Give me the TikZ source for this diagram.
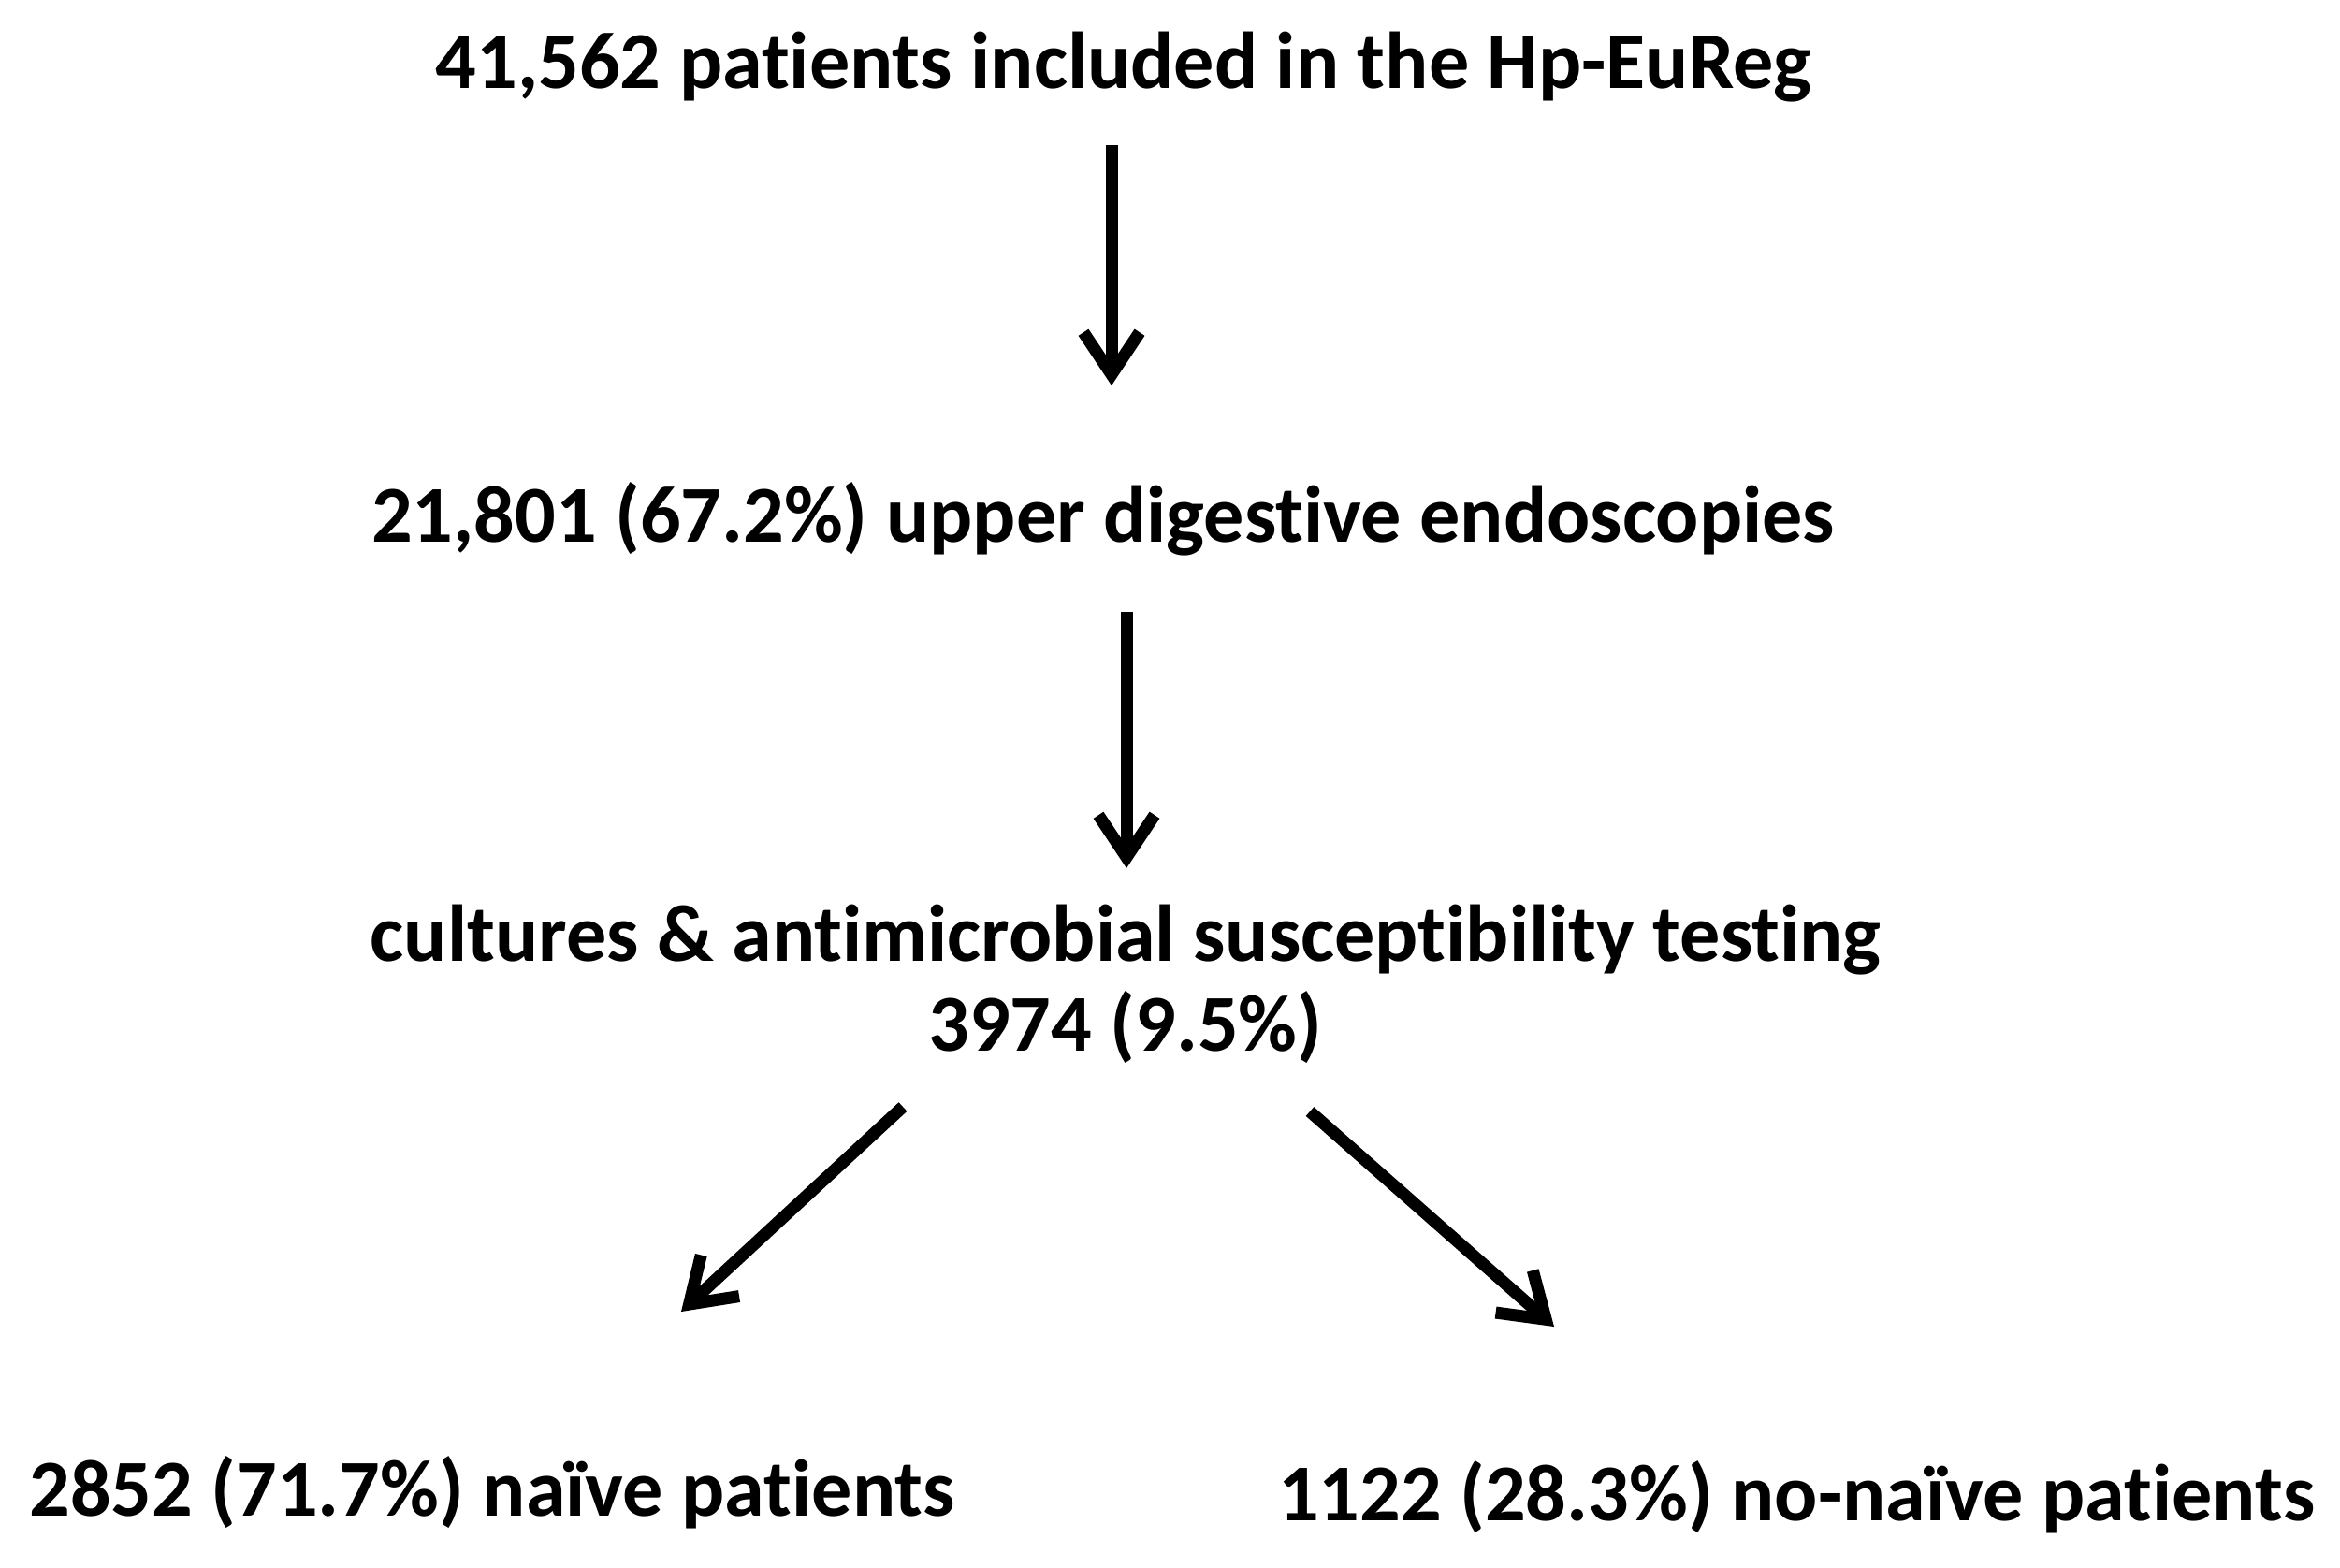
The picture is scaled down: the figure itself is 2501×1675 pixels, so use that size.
\documentclass[tikz,border=0pt]{standalone}
\usepackage{fontspec}
\setmainfont{Carlito}[Ligatures=NoCommon]
\usetikzlibrary{arrows.meta}
\begin{document}
\begin{tikzpicture}[x=0.01cm,y=-0.01cm,
  lbl/.style={font=\fontsize{24.5}{27.3}\selectfont\bfseries, inner sep=0pt, align=center},
  arr/.style={line width=1.3mm, -{Straight Barb[length=4.5mm,width=6mm]}}]
\useasboundingbox (0,0) rectangle (2501,1675);
\node[lbl] (t1) at (1201,72) {41,562 patients included in the Hp-EuReg};
\node[lbl] (t2) at (1179,555) {21,801 (67.2\%) upper digestive endoscopies};
\node[lbl] (t3) at (1203,1052) {cultures \& antimicrobial susceptibility testing\\3974 (9.5\%)};
\node[lbl] (t4) at (526,1595) {2852 (71.7\%) naïve patients};
\node[lbl] (t5) at (1920,1600) {1122 (28.3\%) no-naïve patients};
\coordinate (a1s) at (1188,155); \coordinate (a1e) at (1188,412);
\coordinate (a2s) at (1204,654); \coordinate (a2e) at (1204,928);
\coordinate (a3s) at (965,1183); \coordinate (a3e) at (728,1402);
\coordinate (a4s) at (1400,1188); \coordinate (a4e) at (1661,1418);
\draw[arr] (a1s) -- (a1e);
\draw[arr] (a2s) -- (a2e);
\draw[arr] (a3s) -- (a3e);
\draw[arr] (a4s) -- (a4e);
\end{tikzpicture}
\end{document}
